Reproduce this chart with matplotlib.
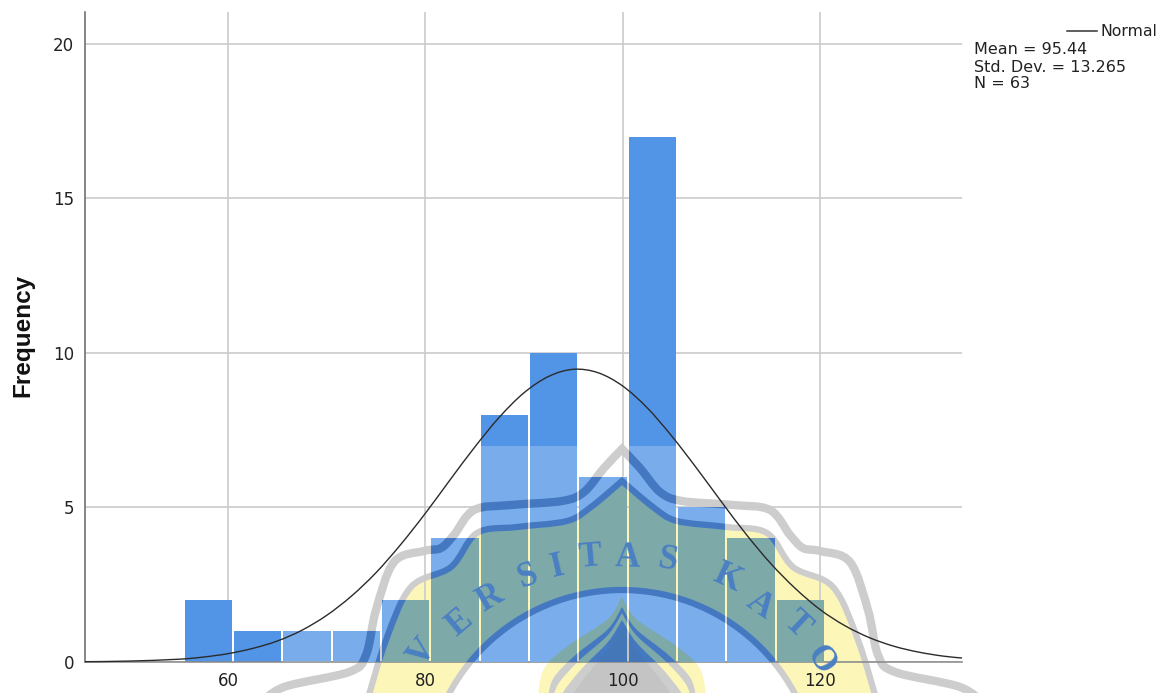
import matplotlib
matplotlib.use("Agg")
import matplotlib.pyplot as plt
from matplotlib.path import Path
from matplotlib.patches import PathPatch, Circle, Rectangle
from matplotlib.transforms import Affine2D
from matplotlib.lines import Line2D

W, H = 1165, 693
bin_centers = [58.0, 63.0, 68.0, 73.0, 78.0, 83.0, 88.0, 93.0, 98.0, 103.0, 108.0, 113.0, 118.0]
frequencies = [2, 1, 1, 1, 2, 4, 8, 10, 6, 17, 5, 4, 2]
curve_x = [45.5, 50, 55, 57.5, 60, 62.5, 65, 67.5, 70, 72.5, 75, 77.5, 80, 82.5, 85, 87.5, 90, 92.5, 95,
           97.5, 100, 102.5, 105, 107.5, 110, 112.5, 115, 117.5, 120, 122.5, 125, 127.5, 130, 132.5, 134.4]
curve_y = [0.01, 0.03, 0.09, 0.16, 0.27, 0.44, 0.68, 1.03, 1.51, 2.13, 2.89, 3.80, 4.81, 5.89, 6.95, 7.92,
           8.71, 9.24, 9.47, 9.36, 8.93, 8.22, 7.30, 6.27, 5.19, 4.14, 3.19, 2.38, 1.70, 1.18, 0.79, 0.51,
           0.32, 0.19, 0.13]
x_ticks = [60, 80, 100, 120]
y_ticks = [0, 5, 10, 15, 20]
stats_lines = ["Mean = 95.44", "Std. Dev. = 13.265", "N = 63"]


def smooth(pts):
    """Bezier segments (Catmull-Rom) running through every given point."""
    verts = [pts[0]]
    for i in range(len(pts) - 1):
        p0 = pts[max(i - 1, 0)]
        p1 = pts[i]
        p2 = pts[i + 1]
        p3 = pts[min(i + 2, len(pts) - 1)]
        verts.append((p1[0] + (p2[0] - p0[0]) / 6, p1[1] + (p2[1] - p0[1]) / 6))
        verts.append((p2[0] - (p3[0] - p1[0]) / 6, p2[1] - (p3[1] - p1[1]) / 6))
        verts.append(p2)
    return verts


fig = plt.figure(figsize=(W / 100, H / 100), dpi=100, facecolor="white")
ax = fig.add_axes([85 / W, 1 - 662 / H, (962 - 85) / W, (662 - 12) / H], zorder=1)
ax.patch.set_alpha(0)
ax.set_xlim(45.5, 134.4)
ax.set_ylim(0, 21.03)
ax.grid(True, color="#cbcbcb", lw=1.2, zorder=1)
ax.set_axisbelow(True)
ax.set_xticks(x_ticks)
ax.set_yticks(y_ticks)
ax.tick_params(length=0, labelsize=12, colors="#222222")
ax.tick_params(axis="x", pad=7)
ax.tick_params(axis="y", pad=8)
for s in ("top", "right"):
    ax.spines[s].set_visible(False)
ax.spines["left"].set_color("#666666")
ax.spines["bottom"].set_color("#888888")
ax.spines["left"].set_linewidth(1.1)
ax.spines["bottom"].set_linewidth(1.1)
fig.text(23 / W, 1 - 335 / H, "Frequency", fontsize=17.5, fontweight="bold", family="Liberation Sans",
         rotation=90, ha="center", va="center", color="#111111")

bars = ax.bar(bin_centers, frequencies, width=4.8, color="#5294e6", zorder=2)
cv = smooth(list(zip(curve_x, curve_y)))
ax.add_patch(PathPatch(Path(cv, [Path.MOVETO] + [Path.CURVE4] * (len(cv) - 1)), fc="none", ec="#2b2b2b", lw=1.0,
                       zorder=6, clip_on=False))

# watermark stamped over the page, painted in pixel coordinates
px = Affine2D().scale(1 / W, -1 / H).translate(0, 1) + fig.transFigure
CX = 622.0


def shape(right):
    left = [(2 * CX - x, y) for x, y in reversed(right)]
    v = smooth(left) + smooth(right)[1:] + [left[0]]
    return Path(v, [Path.MOVETO] + [Path.CURVE4] * (len(v) - 2) + [Path.CLOSEPOLY])


outer = shape([(CX, 449), (640, 468), (660, 492), (682, 501), (733, 505), (770, 510), (790, 535), (803, 548),
               (820, 551), (850, 562), (868, 610), (878, 655), (895, 672), (960, 687), (985, 705)])
inner = shape([(CX, 481), (653, 507), (677, 521), (727, 527), (767, 533), (793, 567), (833, 587), (858, 640),
               (878, 705)])


def dome(top, half):
    return shape([(CX, top), (CX + 14, top + 22), (CX + half * 0.62, top + 48), (CX + half * 0.92, top + 72),
                  (CX + half, 705)])


domes = [(597, 85, "y"), (607, 75, "g"), (613, 70, "y"), (620, 64, "g"), (628, 58, "d")]

letters = [("V", 423, 653, 52), ("E", 460, 623, 40), ("R", 490, 598, 30), ("S", 527, 577, 20), ("I", 557, 567, 13),
           ("T", 590, 558, 5), ("A", 627, 558, -2), ("S", 667, 560, -10), ("K", 727, 578, -25), ("A", 760, 605, -35),
           ("T", 797, 625, -43), ("O", 820, 660, -55)]


def paint(pal, add, clip=None, z=0):
    def put(a):
        a.set_transform(px)
        a.set_zorder(z)
        add(a)
        if clip is not None:
            a.set_clip_path(*clip)
        return a
    put(PathPatch(outer, fc=pal["w"], ec=pal["g"], lw=6))
    put(PathPatch(inner, fc=pal["y"], ec=pal["g"], lw=4.5))
    put(Circle((CX, 786), 196, fc=pal["w"], ec=pal["b"], lw=4.5))
    for top, half, c in domes:
        put(PathPatch(dome(top, half), fc=pal[c], ec="none"))
    for ch, x, y, rot in letters:
        t = ax.text(x, y, ch, transform=px, fontsize=25, family="Liberation Serif", color=pal["t"], rotation=rot,
                    ha="center", va="center", zorder=z, fontweight="bold")
        if clip is not None:
            t.set_clip_path(*clip)
        else:
            t.set_clip_on(False)


# pale layer on the white page
under = {"w": "#ffffff", "g": "#cdcdcd", "b": "#cdcdcd", "y": "#fdf6b9", "d": "#c4c4c4", "t": "#cdcdcd"}
paint(under, fig.add_artist, z=-1)

# same layer seen through the bars
bar_path = Path.make_compound_path(*[p.get_path().transformed(p.get_patch_transform()) for p in bars])
clip = (bar_path, ax.transData)
over = {"w": "#7aadeb", "g": "#4479c2", "b": "#4479c2", "y": "#7da9a8", "d": "#4477b8", "t": "#4a80c2"}
veil = Rectangle((283, 446), 700, 230, transform=px, fc="white", alpha=0.23, ec="none", zorder=3)
ax.add_patch(veil)
veil.set_clip_path(*clip)
paint(over, ax.add_artist, clip=clip, z=4)

# legend block
fig.add_artist(Line2D([1067 / W, 1097 / W], [1 - 31 / H, 1 - 31 / H], color="#333333", lw=1.1))
fig.text(1101 / W, 1 - 32 / H, "Normal", fontsize=11.3, va="center", ha="left", color="#222222")
for line, y in zip(stats_lines, [50, 67, 84]):
    fig.text(974 / W, 1 - y / H, line, fontsize=11.5, va="center", ha="left", color="#222222", linespacing=1)

fig.savefig("out.png", dpi=100)
